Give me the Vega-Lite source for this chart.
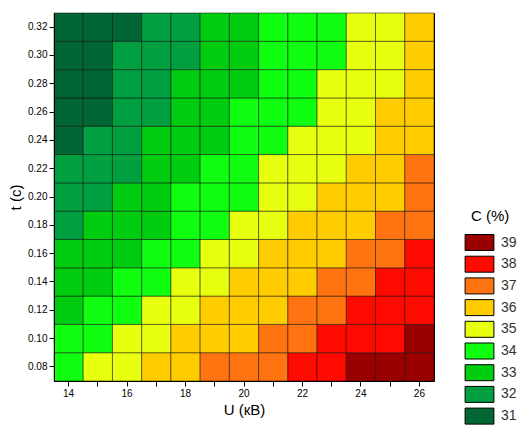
{
  "$schema": "https://vega.github.io/schema/vega-lite/v6.json",
  "width": 380,
  "height": 368,
  "padding": {"left": 8, "top": 12, "right": 5, "bottom": 5},
  "background": "#ffffff",
  "data": {
    "values": [
      {"U": 14, "t": 0.08, "C": 34.80}, {"U": 15, "t": 0.08, "C": 35.26}, {"U": 16, "t": 0.08, "C": 35.72}, {"U": 17, "t": 0.08, "C": 36.16}, {"U": 18, "t": 0.08, "C": 36.60}, {"U": 19, "t": 0.08, "C": 37.03}, {"U": 20, "t": 0.08, "C": 37.45}, {"U": 21, "t": 0.08, "C": 37.86}, {"U": 22, "t": 0.08, "C": 38.27}, {"U": 23, "t": 0.08, "C": 38.66}, {"U": 24, "t": 0.08, "C": 39.05}, {"U": 25, "t": 0.08, "C": 39.43}, {"U": 26, "t": 0.08, "C": 39.80},
      {"U": 14, "t": 0.10, "C": 34.30}, {"U": 15, "t": 0.10, "C": 34.76}, {"U": 16, "t": 0.10, "C": 35.22}, {"U": 17, "t": 0.10, "C": 35.66}, {"U": 18, "t": 0.10, "C": 36.10}, {"U": 19, "t": 0.10, "C": 36.53}, {"U": 20, "t": 0.10, "C": 36.95}, {"U": 21, "t": 0.10, "C": 37.36}, {"U": 22, "t": 0.10, "C": 37.77}, {"U": 23, "t": 0.10, "C": 38.16}, {"U": 24, "t": 0.10, "C": 38.55}, {"U": 25, "t": 0.10, "C": 38.93}, {"U": 26, "t": 0.10, "C": 39.30},
      {"U": 14, "t": 0.12, "C": 33.83}, {"U": 15, "t": 0.12, "C": 34.29}, {"U": 16, "t": 0.12, "C": 34.75}, {"U": 17, "t": 0.12, "C": 35.19}, {"U": 18, "t": 0.12, "C": 35.63}, {"U": 19, "t": 0.12, "C": 36.06}, {"U": 20, "t": 0.12, "C": 36.48}, {"U": 21, "t": 0.12, "C": 36.89}, {"U": 22, "t": 0.12, "C": 37.30}, {"U": 23, "t": 0.12, "C": 37.69}, {"U": 24, "t": 0.12, "C": 38.08}, {"U": 25, "t": 0.12, "C": 38.46}, {"U": 26, "t": 0.12, "C": 38.83},
      {"U": 14, "t": 0.14, "C": 33.40}, {"U": 15, "t": 0.14, "C": 33.86}, {"U": 16, "t": 0.14, "C": 34.32}, {"U": 17, "t": 0.14, "C": 34.76}, {"U": 18, "t": 0.14, "C": 35.20}, {"U": 19, "t": 0.14, "C": 35.63}, {"U": 20, "t": 0.14, "C": 36.05}, {"U": 21, "t": 0.14, "C": 36.46}, {"U": 22, "t": 0.14, "C": 36.87}, {"U": 23, "t": 0.14, "C": 37.26}, {"U": 24, "t": 0.14, "C": 37.65}, {"U": 25, "t": 0.14, "C": 38.03}, {"U": 26, "t": 0.14, "C": 38.40},
      {"U": 14, "t": 0.16, "C": 33.00}, {"U": 15, "t": 0.16, "C": 33.46}, {"U": 16, "t": 0.16, "C": 33.92}, {"U": 17, "t": 0.16, "C": 34.36}, {"U": 18, "t": 0.16, "C": 34.80}, {"U": 19, "t": 0.16, "C": 35.23}, {"U": 20, "t": 0.16, "C": 35.65}, {"U": 21, "t": 0.16, "C": 36.06}, {"U": 22, "t": 0.16, "C": 36.47}, {"U": 23, "t": 0.16, "C": 36.86}, {"U": 24, "t": 0.16, "C": 37.25}, {"U": 25, "t": 0.16, "C": 37.63}, {"U": 26, "t": 0.16, "C": 38.00},
      {"U": 14, "t": 0.18, "C": 32.63}, {"U": 15, "t": 0.18, "C": 33.09}, {"U": 16, "t": 0.18, "C": 33.55}, {"U": 17, "t": 0.18, "C": 33.99}, {"U": 18, "t": 0.18, "C": 34.43}, {"U": 19, "t": 0.18, "C": 34.86}, {"U": 20, "t": 0.18, "C": 35.28}, {"U": 21, "t": 0.18, "C": 35.69}, {"U": 22, "t": 0.18, "C": 36.10}, {"U": 23, "t": 0.18, "C": 36.49}, {"U": 24, "t": 0.18, "C": 36.88}, {"U": 25, "t": 0.18, "C": 37.26}, {"U": 26, "t": 0.18, "C": 37.63},
      {"U": 14, "t": 0.20, "C": 32.30}, {"U": 15, "t": 0.20, "C": 32.76}, {"U": 16, "t": 0.20, "C": 33.22}, {"U": 17, "t": 0.20, "C": 33.66}, {"U": 18, "t": 0.20, "C": 34.10}, {"U": 19, "t": 0.20, "C": 34.53}, {"U": 20, "t": 0.20, "C": 34.95}, {"U": 21, "t": 0.20, "C": 35.36}, {"U": 22, "t": 0.20, "C": 35.77}, {"U": 23, "t": 0.20, "C": 36.16}, {"U": 24, "t": 0.20, "C": 36.55}, {"U": 25, "t": 0.20, "C": 36.93}, {"U": 26, "t": 0.20, "C": 37.30},
      {"U": 14, "t": 0.22, "C": 32.00}, {"U": 15, "t": 0.22, "C": 32.46}, {"U": 16, "t": 0.22, "C": 32.92}, {"U": 17, "t": 0.22, "C": 33.36}, {"U": 18, "t": 0.22, "C": 33.80}, {"U": 19, "t": 0.22, "C": 34.23}, {"U": 20, "t": 0.22, "C": 34.65}, {"U": 21, "t": 0.22, "C": 35.06}, {"U": 22, "t": 0.22, "C": 35.47}, {"U": 23, "t": 0.22, "C": 35.86}, {"U": 24, "t": 0.22, "C": 36.25}, {"U": 25, "t": 0.22, "C": 36.63}, {"U": 26, "t": 0.22, "C": 37.00},
      {"U": 14, "t": 0.24, "C": 31.73}, {"U": 15, "t": 0.24, "C": 32.19}, {"U": 16, "t": 0.24, "C": 32.65}, {"U": 17, "t": 0.24, "C": 33.09}, {"U": 18, "t": 0.24, "C": 33.53}, {"U": 19, "t": 0.24, "C": 33.96}, {"U": 20, "t": 0.24, "C": 34.38}, {"U": 21, "t": 0.24, "C": 34.79}, {"U": 22, "t": 0.24, "C": 35.20}, {"U": 23, "t": 0.24, "C": 35.59}, {"U": 24, "t": 0.24, "C": 35.98}, {"U": 25, "t": 0.24, "C": 36.36}, {"U": 26, "t": 0.24, "C": 36.73},
      {"U": 14, "t": 0.26, "C": 31.50}, {"U": 15, "t": 0.26, "C": 31.96}, {"U": 16, "t": 0.26, "C": 32.42}, {"U": 17, "t": 0.26, "C": 32.86}, {"U": 18, "t": 0.26, "C": 33.30}, {"U": 19, "t": 0.26, "C": 33.73}, {"U": 20, "t": 0.26, "C": 34.15}, {"U": 21, "t": 0.26, "C": 34.56}, {"U": 22, "t": 0.26, "C": 34.97}, {"U": 23, "t": 0.26, "C": 35.36}, {"U": 24, "t": 0.26, "C": 35.75}, {"U": 25, "t": 0.26, "C": 36.13}, {"U": 26, "t": 0.26, "C": 36.50},
      {"U": 14, "t": 0.28, "C": 31.30}, {"U": 15, "t": 0.28, "C": 31.76}, {"U": 16, "t": 0.28, "C": 32.22}, {"U": 17, "t": 0.28, "C": 32.66}, {"U": 18, "t": 0.28, "C": 33.10}, {"U": 19, "t": 0.28, "C": 33.53}, {"U": 20, "t": 0.28, "C": 33.95}, {"U": 21, "t": 0.28, "C": 34.36}, {"U": 22, "t": 0.28, "C": 34.77}, {"U": 23, "t": 0.28, "C": 35.16}, {"U": 24, "t": 0.28, "C": 35.55}, {"U": 25, "t": 0.28, "C": 35.93}, {"U": 26, "t": 0.28, "C": 36.30},
      {"U": 14, "t": 0.30, "C": 31.13}, {"U": 15, "t": 0.30, "C": 31.59}, {"U": 16, "t": 0.30, "C": 32.05}, {"U": 17, "t": 0.30, "C": 32.49}, {"U": 18, "t": 0.30, "C": 32.93}, {"U": 19, "t": 0.30, "C": 33.36}, {"U": 20, "t": 0.30, "C": 33.78}, {"U": 21, "t": 0.30, "C": 34.19}, {"U": 22, "t": 0.30, "C": 34.60}, {"U": 23, "t": 0.30, "C": 34.99}, {"U": 24, "t": 0.30, "C": 35.38}, {"U": 25, "t": 0.30, "C": 35.76}, {"U": 26, "t": 0.30, "C": 36.13},
      {"U": 14, "t": 0.32, "C": 31.00}, {"U": 15, "t": 0.32, "C": 31.46}, {"U": 16, "t": 0.32, "C": 31.92}, {"U": 17, "t": 0.32, "C": 32.36}, {"U": 18, "t": 0.32, "C": 32.80}, {"U": 19, "t": 0.32, "C": 33.23}, {"U": 20, "t": 0.32, "C": 33.65}, {"U": 21, "t": 0.32, "C": 34.06}, {"U": 22, "t": 0.32, "C": 34.47}, {"U": 23, "t": 0.32, "C": 34.86}, {"U": 24, "t": 0.32, "C": 35.25}, {"U": 25, "t": 0.32, "C": 35.63}, {"U": 26, "t": 0.32, "C": 36.00}
    ]
  },
  "transform": [
    {"calculate": "floor(datum.C)", "as": "level"}
  ],
  "mark": {"type": "rect", "stroke": "#000000", "strokeWidth": 0.6, "strokeOpacity": 0.8},
  "encoding": {
    "x": {
      "field": "U",
      "type": "ordinal",
      "title": "U (кВ)",
      "scale": {"paddingInner": 0, "paddingOuter": 0},
      "axis": {
        "labelAngle": 0,
        "labelExpr": "datum.value % 2 == 0 ? datum.label : ''",
        "labelFont": "Liberation Sans",
        "labelFontSize": 10,
        "labelColor": "#000000",
        "titleFont": "Liberation Sans",
        "titleFontSize": 15,
        "titleFontWeight": "normal",
        "titleColor": "#000000",
        "domainColor": "#000000",
        "tickColor": "#000000"
      }
    },
    "y": {
      "field": "t",
      "type": "ordinal",
      "sort": "descending",
      "title": "t (с)",
      "scale": {"paddingInner": 0, "paddingOuter": 0},
      "axis": {
        "labelExpr": "format(datum.value, '.2f')",
        "labelFont": "Liberation Sans",
        "labelFontSize": 10,
        "labelColor": "#000000",
        "titleFont": "Liberation Sans",
        "titleFontSize": 15,
        "titleFontWeight": "normal",
        "titleColor": "#000000",
        "domainColor": "#000000",
        "tickColor": "#000000"
      }
    },
    "color": {
      "field": "level",
      "type": "ordinal",
      "title": "C (%)",
      "scale": {
        "domain": [39, 38, 37, 36, 35, 34, 33, 32, 31],
        "range": ["#9a0000", "#ff0a00", "#ff7410", "#ffcc00", "#e8ff10", "#10ff10", "#00cc10", "#00a040", "#006633"]
      },
      "legend": {
        "orient": "none",
        "legendX": 417,
        "legendY": 196,
        "symbolType": "M -1.8 -1 H 1.8 V 1 H -1.8 Z",
        "symbolSize": 256,
        "symbolStrokeColor": "#000000",
        "symbolStrokeWidth": 1,
        "symbolOpacity": 1,
        "rowPadding": 0.7,
        "labelFont": "Liberation Sans",
        "labelFontSize": 14,
        "labelColor": "#333333",
        "labelOffset": 13,
        "titleFont": "Liberation Sans",
        "titleFontSize": 15,
        "titleFontWeight": "normal",
        "titleColor": "#000000",
        "titlePadding": 10
      }
    }
  },
  "config": {
    "view": {"stroke": "#000000"}
  }
}
